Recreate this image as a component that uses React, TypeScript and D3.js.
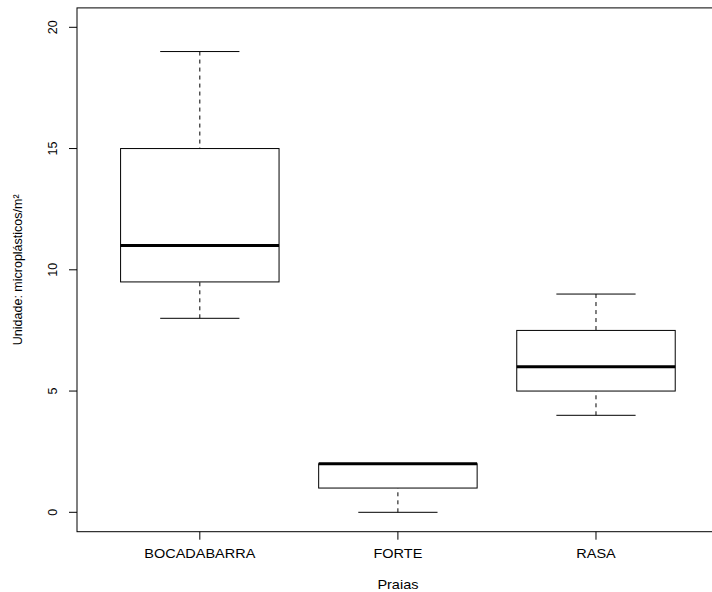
import React from "react";
import * as d3 from "d3";

// five-number summaries
const beaches = ["BOCADABARRA", "FORTE", "RASA"];
const lowWhisker = [8, 0, 4];
const q1 = [9.5, 1, 5];
const median = [11, 2, 6];
const q3 = [15, 2, 7.5];
const highWhisker = [19, 2, 9];
const yTicks = [0, 5, 10, 15, 20];

const width = 712;
const height = 592;
const font = "'Liberation Sans', Arial, sans-serif";

const App = () => {
  // R style: xlim 0.5..3.5 and ylim 0..20, each padded by 4%
  const x = d3.scaleLinear().domain([0.38, 3.62]).range([77, 718.8]);
  const y = d3.scaleLinear().domain([-0.8, 20.8]).range([531.7, 7.9]);

  const boxW = x(0.8) - x(0);
  const capW = boxW / 2;

  return (
    <svg
      width={width}
      height={height}
      style={{ position: "absolute", left: 0, top: 0, background: "#fff" }}
      fontFamily={font}
    >
      <rect x={0} y={0} width={width} height={height} fill="#fff" />

      {beaches.map((b, i) => {
        const cx = x(i + 1);
        return (
          <g key={b} stroke="#000" fill="none">
            {/* whiskers */}
            <line x1={cx} x2={cx} y1={y(highWhisker[i])} y2={y(q3[i])} strokeDasharray="4,4" />
            <line x1={cx} x2={cx} y1={y(lowWhisker[i])} y2={y(q1[i])} strokeDasharray="4,4" />
            <line x1={cx - capW / 2} x2={cx + capW / 2} y1={y(highWhisker[i])} y2={y(highWhisker[i])} />
            <line x1={cx - capW / 2} x2={cx + capW / 2} y1={y(lowWhisker[i])} y2={y(lowWhisker[i])} />
            {/* box */}
            <rect
              x={cx - boxW / 2}
              y={y(q3[i])}
              width={boxW}
              height={y(q1[i]) - y(q3[i])}
              fill="#fff"
            />
            <line
              x1={cx - boxW / 2}
              x2={cx + boxW / 2}
              y1={y(median[i])}
              y2={y(median[i])}
              strokeWidth={3}
            />
          </g>
        );
      })}

      {/* frame */}
      <rect x={77} y={7.9} width={718.8 - 77} height={531.7 - 7.9} fill="none" stroke="#000" />

      {/* y axis */}
      <g>
        {yTicks.map((t) => (
          <g key={t}>
            <line x1={69} x2={77} y1={y(t)} y2={y(t)} stroke="#000" />
            <text
              transform={`translate(57, ${y(t)}) rotate(-90)`}
              textAnchor="middle"
              fontSize={12.5}
              fill="#000"
            >
              {t}
            </text>
          </g>
        ))}
      </g>

      {/* x axis */}
      <g>
        {beaches.map((b, i) => (
          <g key={b}>
            <line x1={x(i + 1)} x2={x(i + 1)} y1={531.7} y2={539.7} stroke="#000" />
            <text
              transform={`translate(${x(i + 1)}, 558) scale(1.16, 1)`}
              textAnchor="middle"
              fontSize={12.5}
              fill="#000"
            >
              {b}
            </text>
          </g>
        ))}
      </g>

      <text
        transform={`translate(${x(2)}, 589) scale(1.16, 1)`}
        textAnchor="middle"
        fontSize={12.5}
        fill="#000"
      >
        Praias
      </text>
      <text
        transform={`translate(22, ${(y(0) + y(20)) / 2}) rotate(-90)`}
        textAnchor="middle"
        fontSize={12.5}
        fill="#000"
      >
        Unidade: microplásticos/m²
      </text>
    </svg>
  );
};

export default App;
